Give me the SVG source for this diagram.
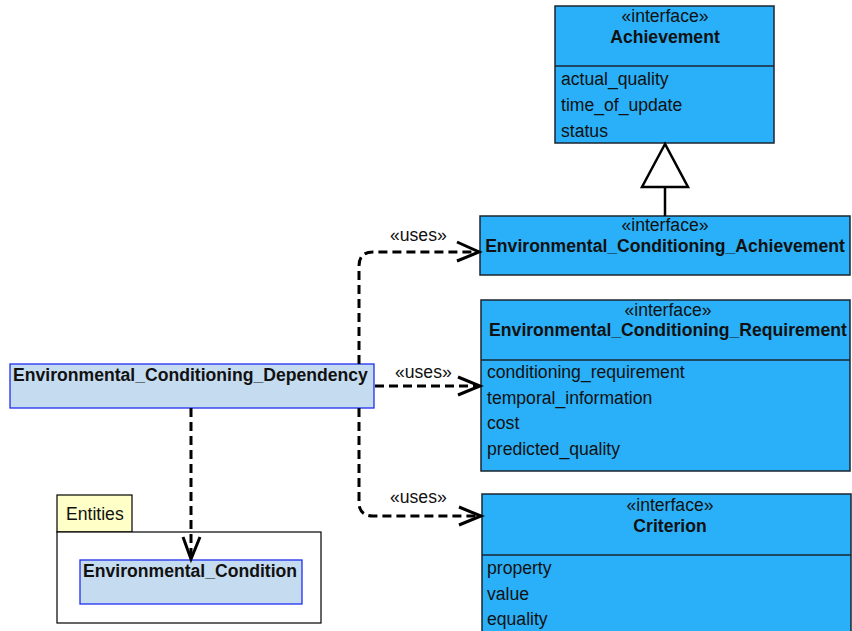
<svg xmlns="http://www.w3.org/2000/svg" width="852" height="631" viewBox="0 0 852 631">
  <style>
    text { font-family: "Liberation Sans", Arial, sans-serif; font-size: 17.6px; fill: #111; }
    .b { font-weight: bold; }
    .c { text-anchor: middle; }
    .iface { fill: #29b0f8; stroke: #1a2530; stroke-width: 1.5; }
    .cls { fill: #c5dcf0; stroke: #1f2ff0; stroke-width: 1.3; }
    .dash { fill: none; stroke: #000; stroke-width: 3; stroke-dasharray: 9 5; }
    .head { fill: none; stroke: #000; stroke-width: 3; }
  </style>
  <rect width="852" height="631" fill="#fff"/>

  <!-- Entities package -->
  <g id="pkg-entities">
    <rect x="57" y="495" width="75" height="37" fill="#ffffc8" stroke="#000" stroke-width="1.2"/>
    <rect x="57" y="532" width="264" height="91" fill="#fff" stroke="#000" stroke-width="1.2"/>
    <text x="66" y="520">Entities</text>
  </g>

  <g id="environmental-condition">
    <rect class="cls" x="80" y="560" width="222" height="44"/>
    <text class="b" x="83" y="577">Environmental_Condition</text>
  </g>

  <g id="environmental-conditioning-dependency">
    <rect class="cls" x="10" y="364" width="364" height="44"/>
    <text class="b" x="13" y="381">Environmental_Conditioning_Dependency</text>
  </g>

  <g id="achievement">
    <rect class="iface" x="555" y="6" width="219" height="137"/>
    <line x1="555" y1="66" x2="774" y2="66" stroke="#1a2530" stroke-width="1.5"/>
    <text class="c" x="665" y="22">«interface»</text>
    <text class="b c" x="665" y="43">Achievement</text>
    <text x="561" y="85">actual_quality</text>
    <text x="561" y="111">time_of_update</text>
    <text x="561" y="137">status</text>
  </g>

  <g id="environmental-conditioning-achievement">
    <rect class="iface" x="480" y="216" width="370" height="59"/>
    <text class="c" x="665" y="231">«interface»</text>
    <text class="b c" x="665" y="252">Environmental_Conditioning_Achievement</text>
  </g>

  <g id="environmental-conditioning-requirement">
    <rect class="iface" x="481" y="300" width="369" height="171"/>
    <line x1="481" y1="360" x2="850" y2="360" stroke="#1a2530" stroke-width="1.5"/>
    <text class="c" x="668" y="316">«interface»</text>
    <text class="b c" x="668" y="336">Environmental_Conditioning_Requirement</text>
    <text x="487" y="378">conditioning_requirement</text>
    <text x="487" y="404">temporal_information</text>
    <text x="487" y="429">cost</text>
    <text x="487" y="455">predicted_quality</text>
  </g>

  <g id="criterion">
    <rect class="iface" x="482" y="494" width="369" height="145"/>
    <line x1="482" y1="555" x2="851" y2="555" stroke="#1a2530" stroke-width="1.5"/>
    <text class="c" x="670" y="511">«interface»</text>
    <text class="b c" x="670" y="532">Criterion</text>
    <text x="487" y="574">property</text>
    <text x="487" y="600">value</text>
    <text x="487" y="625">equality</text>
  </g>

  <g id="connectors">
    <!-- generalization -->
    <line x1="665" y1="187" x2="665" y2="216" stroke="#000" stroke-width="2.5"/>
    <polygon points="665,144 642,187 688,187" fill="#fff" stroke="#000" stroke-width="2.5"/>

    <!-- uses: achievement -->
    <path class="dash" d="M359,364 V266 Q359,252 373,252 H478"/>
    <polyline class="head" points="457,242 479,252 457,261"/>
    <text x="390" y="241">«uses»</text>

    <!-- uses: requirement -->
    <path class="dash" d="M375,386 H479"/>
    <polyline class="head" points="458,377 480,386 458,395"/>
    <text x="395" y="378">«uses»</text>

    <!-- uses: criterion -->
    <path class="dash" d="M359,408 V502 Q359,516 373,516 H480"/>
    <polyline class="head" points="459,507 481,516 459,525"/>
    <text x="390" y="503">«uses»</text>

    <!-- dependency to entity -->
    <path class="dash" d="M191,408 V558"/>
    <polyline class="head" points="183,537 191,559 200,537"/>
  </g>
</svg>
